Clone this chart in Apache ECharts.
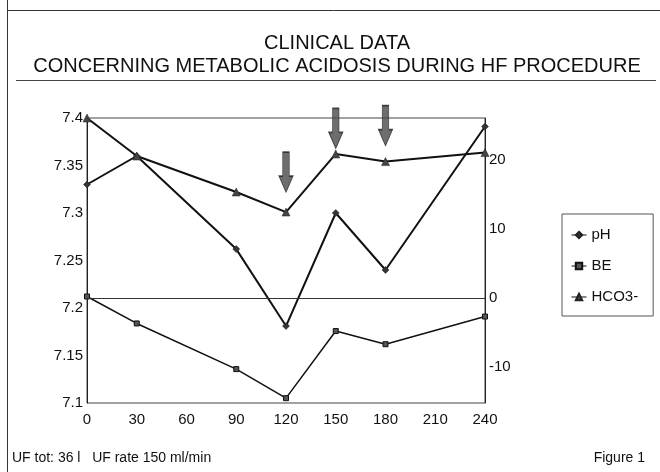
<!DOCTYPE html>
<html>
<head>
<meta charset="utf-8">
<script src="https://cdn.jsdelivr.net/npm/echarts@6/dist/echarts.min.js"></script>
<style>
html,body{margin:0;padding:0;background:#fff;}
#chart{width:660px;height:472px;}
</style>
</head>
<body>
<div id="chart"></div>
<script>
var times = [0, 30, 90, 120, 150, 180, 240];
var xTicks = [0, 30, 60, 90, 120, 150, 180, 210, 240];
var pH = [7.33, 7.36, 7.262, 7.181, 7.30, 7.24, 7.391];
var BE = [0.2, -3.7, -10.3, -14.5, -4.8, -6.7, -2.7];
var HCO3 = [26.0, 20.5, 15.3, 12.4, 20.8, 19.7, 21.0];
var rightTicks = [-10, 0, 10, 20];
// arrows: time and pH-scale value of arrow tip
var arrowTimes = [120, 150, 180];
var arrowTips = [7.322, 7.368, 7.371];

function pairs(xs, ys){ return xs.map(function(x,i){ return [x, ys[i]]; }); }

var FONT = 'Liberation Sans, Arial, Helvetica, sans-serif';
var chart = echarts.init(document.getElementById('chart'), null, {renderer:'canvas'});
var arrowPath = 'path://M3,0 L10,0 L10,24 L14,24 L6.5,40 L-1,24 L3,24 Z';

chart.setOption({
  animation:false,
  backgroundColor:'#fff',
  textStyle:{fontFamily:FONT},
  title:{
    text:'CLINICAL DATA\nCONCERNING METABOLIC ACIDOSIS DURING HF PROCEDURE',
    left:332, top:27, textAlign:'center',
    textStyle:{fontSize:20, fontWeight:'normal', color:'#111', lineHeight:23, fontFamily:FONT}
  },
  grid:{left:87, right:175, top:118, bottom:69, show:true, borderColor:'#444', borderWidth:1, backgroundColor:'transparent'},
  legend:{
    orient:'vertical', left:562, top:214,
    padding:[13,15,11,9], itemGap:15, itemWidth:15, itemHeight:8,
    borderColor:'#555', borderWidth:1,
    lineStyle:{width:1},
    textStyle:{fontSize:15, color:'#111', lineHeight:16, fontFamily:FONT},
    data:['pH','BE','HCO3-']
  },
  xAxis:{
    type:'value', min:0, max:240, interval:30,
    axisLine:{show:true, lineStyle:{color:'#222', width:1}},
    axisTick:{show:false}, splitLine:{show:false},
    axisLabel:{fontSize:15, color:'#111', margin:9, fontFamily:FONT}
  },
  yAxis:[{
    type:'value', min:7.1, max:7.4, interval:0.05, position:'left',
    axisLine:{show:true, onZero:false, lineStyle:{color:'#222'}},
    axisTick:{show:false}, splitLine:{show:false},
    axisLabel:{fontSize:15, color:'#111', margin:4, fontFamily:FONT,
      formatter:function(v){ return String(+v.toFixed(2)); }}
  },{
    type:'value', min:-15.2, max:26, position:'right',
    axisLine:{show:true, onZero:false, lineStyle:{color:'#222'}},
    axisTick:{show:false, customValues:rightTicks}, splitLine:{show:false},
    axisLabel:{fontSize:15, color:'#111', margin:4, fontFamily:FONT, customValues:rightTicks}
  }],
  series:[{
    name:'pH', type:'line', yAxisIndex:0, data:pairs(times,pH),
    symbol:'diamond', symbolSize:7, showSymbol:true,
    lineStyle:{color:'#111', width:2}, itemStyle:{color:'#333', borderColor:'#222', borderWidth:0.5}
  },{
    name:'BE', type:'line', yAxisIndex:1, data:pairs(times,BE),
    symbol:'rect', symbolSize:5, showSymbol:true,
    lineStyle:{color:'#111', width:1.5}, itemStyle:{color:'#555', borderColor:'#111', borderWidth:1},
    markLine:{silent:true, symbol:['none','none'], label:{show:false},
      lineStyle:{color:'#333', width:1, type:'solid'}, data:[{yAxis:0}]}
  },{
    name:'HCO3-', type:'line', yAxisIndex:1, data:pairs(times,HCO3),
    symbol:'triangle', symbolSize:8, showSymbol:true,
    lineStyle:{color:'#111', width:2}, itemStyle:{color:'#444', borderColor:'#222', borderWidth:0.5}
  },{
    name:'arrows', type:'scatter', yAxisIndex:0, data:pairs(arrowTimes,arrowTips),
    symbol:arrowPath, symbolSize:[14,40], symbolKeepAspect:false, symbolOffset:[0,'-50%'],
    itemStyle:{color:'#4a4a4a', borderColor:'#222', borderWidth:1}, z:5, silent:true
  }],
  graphic:[
    {type:'line', shape:{x1:7.5, y1:0, x2:7.5, y2:472}, style:{stroke:'#333', lineWidth:1}},
    {type:'line', shape:{x1:7, y1:10.5, x2:660, y2:10.5}, style:{stroke:'#333', lineWidth:1}},
    {type:'line', shape:{x1:16, y1:80.5, x2:656, y2:80.5}, style:{stroke:'#444', lineWidth:1}},
    {type:'text', left:12, top:451, style:{text:'UF tot: 36 l   UF rate 150 ml/min', font:'14px '+FONT, fill:'#111'}},
    {type:'text', right:15, top:451, style:{text:'Figure 1', font:'14px '+FONT, fill:'#111'}}
  ]
});
</script>
</body>
</html>
